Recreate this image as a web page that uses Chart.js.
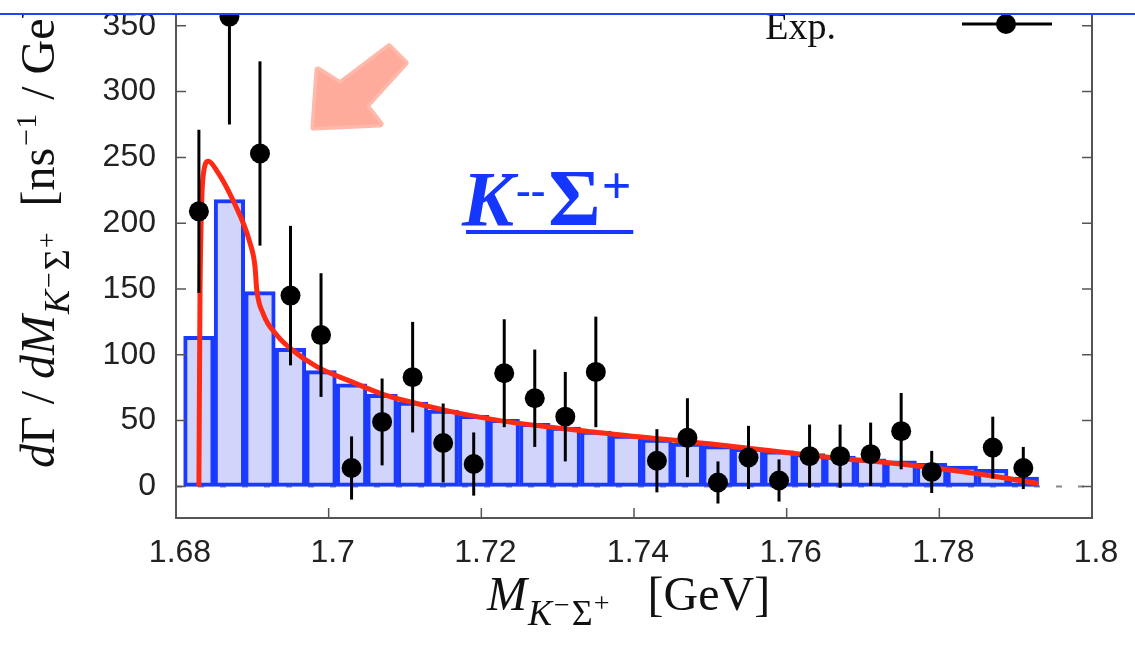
<!DOCTYPE html>
<html>
<head>
<meta charset="utf-8">
<title>K⁻Σ⁺ mass spectrum</title>
<script src="https://cdn.jsdelivr.net/npm/chart.js@4.4.1/dist/chart.umd.min.js"></script>
<style>
  html, body { margin: 0; padding: 0; background: #fff; }
  .Spectrum { position: relative; width: 1135px; height: 646px; overflow: hidden; }
</style>
</head>
<body>
<div class="Spectrum"><canvas id="spectrum"></canvas></div>
<script>
// bin centres of the K- Sigma+ invariant mass histogram [GeV], 4 MeV bins
const binCenters = [1.683, 1.687, 1.691, 1.695, 1.699, 1.703, 1.707, 1.711, 1.715, 1.719,
                    1.723, 1.727, 1.731, 1.735, 1.739, 1.743, 1.747, 1.751, 1.755, 1.759,
                    1.763, 1.767, 1.771, 1.775, 1.779, 1.783, 1.787, 1.791];
// model, binned
const modelHist = [114, 218, 148, 105, 88, 78, 70, 64, 58, 54,
                   51, 48, 45, 42, 39, 36, 33, 31, 29, 27,
                   25, 23, 21, 19.5, 17.5, 15.5, 13, 7];
// measured rate and its uncertainty (null = empty bin)
const expRate  = [209, 357, 253, 145, 115, 14, 49, 83, 33, 17,
                  86, 67, 53, 87, null, 19.5, 37, 3, 22, 4.5,
                  23, 23, 24.5, 42, 11, null, 29.5, 14];
const expError = [62, 82, 70, 53, 47, 24, 33, 42, 30, 24,
                  41, 37, 34, 42, null, 24, 30, 16, 24, 16,
                  24, 24, 24, 29, 16, null, 23.5, 16];
// model, unbinned
const curveMass = [1.6830, 1.68314, 1.68337, 1.68358, 1.68423, 1.68533, 1.6875, 1.68969, 1.69035,
                   1.69057, 1.69144, 1.69319, 1.69494, 1.69843, 1.7028, 1.7071, 1.71153, 1.7159,
                   1.72245, 1.7352, 1.7504, 1.7657, 1.7749, 1.788, 1.793];
const curveRate = [0, 142, 217, 237, 247, 240, 217, 185, 167,
                   150, 131, 115, 105, 91, 80, 70, 63, 57,
                   50, 41, 32, 22, 17, 7, 2];

const massTicks = [1.68, 1.7, 1.72, 1.74, 1.76, 1.78, 1.8];
const rateTicks = [0, 50, 100, 150, 200, 250, 300, 350];

const SANS = "'Liberation Sans', Arial, sans-serif";
const SERIF = "'Liberation Serif', 'Times New Roman', serif";

// draws a run of text pieces (sub/superscripts via dy), returns end x
function drawRich(ctx, parts, x, y) {
  ctx.textAlign = 'left';
  ctx.textBaseline = 'alphabetic';
  for (const p of parts) {
    ctx.font = p.font;
    x += p.pre || 0;
    ctx.fillText(p.text, x, y + (p.dy || 0));
    x += ctx.measureText(p.text).width;
  }
  return x;
}

function richWidth(ctx, parts) {
  let w = 0;
  for (const p of parts) { ctx.font = p.font; w += ctx.measureText(p.text).width + (p.pre || 0); }
  return w;
}

const kSigmaSub = [
  { text: 'K', font: 'italic 36px ' + SERIF, dy: 15, pre: 1 },
  { text: '−', font: '28px ' + SERIF, dy: 4, pre: 2 },
  { text: 'Σ', font: '36px ' + SERIF, dy: 15, pre: 2 },
  { text: '+', font: '28px ' + SERIF, dy: 2, pre: 1 }
];

const xTitle = [{ text: 'M', font: 'italic 48px ' + SERIF }, ...kSigmaSub,
                { text: '[GeV]', font: '48px ' + SERIF, pre: 38 }];
const yTitle = [
  { text: 'd', font: 'italic 48px ' + SERIF },
  { text: 'Γ / ', font: '48px ' + SERIF },
  { text: 'dM', font: 'italic 48px ' + SERIF },
  ...kSigmaSub,
  { text: '[ns', font: '48px ' + SERIF, pre: 26 },
  { text: '−1', font: '30px ' + SERIF, dy: -18, pre: 2 },
  { text: ' / GeV]', font: '48px ' + SERIF, pre: 2 }
];
const channelLabel = [
  { text: 'K', font: 'italic bold 78px ' + SERIF },
  { text: '--', font: 'bold 44px ' + SERIF, dy: -20, pre: 2 },
  { text: 'Σ', font: 'bold 80px ' + SERIF, pre: 3 },
  { text: '+', font: 'bold 52px ' + SERIF, dy: -22, pre: 1 }
];

const decorations = {
  id: 'decorations',
  beforeDatasetsDraw(chart) {
    const { ctx, chartArea: a, scales: { y } } = chart;
    ctx.save();
    ctx.strokeStyle = '#888';
    ctx.lineWidth = 2;
    ctx.setLineDash([6, 16]);
    ctx.beginPath();
    ctx.moveTo(a.left, y.getPixelForValue(0));
    ctx.lineTo(a.right, y.getPixelForValue(0));
    ctx.stroke();
    ctx.restore();
  },
  beforeDatasetDraw(chart, args) {
    if (args.index !== 2) return;
    const { ctx, scales: { x, y } } = chart;
    ctx.save();
    ctx.strokeStyle = '#000';
    ctx.lineWidth = 3;
    binCenters.forEach((m, i) => {
      if (expRate[i] == null) return;
      const px = x.getPixelForValue(m);
      ctx.beginPath();
      ctx.moveTo(px, y.getPixelForValue(expRate[i] - expError[i]));
      ctx.lineTo(px, y.getPixelForValue(expRate[i] + expError[i]));
      ctx.stroke();
    });
    ctx.restore();
  },
  afterDraw(chart) {
    const { ctx, chartArea: a, scales: { x, y } } = chart;
    ctx.save();

    // frame with inward ticks
    ctx.strokeStyle = '#555';
    ctx.lineWidth = 2;
    ctx.strokeRect(a.left, a.top, a.right - a.left, a.bottom - a.top);
    ctx.lineWidth = 1.5;
    ctx.beginPath();
    rateTicks.forEach(v => {
      const py = y.getPixelForValue(v);
      ctx.moveTo(a.left, py); ctx.lineTo(a.left + 10, py);
      ctx.moveTo(a.right, py); ctx.lineTo(a.right - 10, py);
    });
    massTicks.forEach(v => {
      const px = x.getPixelForValue(v);
      ctx.moveTo(px, a.bottom); ctx.lineTo(px, a.bottom - 10);
    });
    ctx.stroke();

    // axis titles
    ctx.fillStyle = '#111';
    drawRich(ctx, xTitle, 487, 610);
    ctx.save();
    ctx.translate(54, 468);
    ctx.rotate(-Math.PI / 2);
    drawRich(ctx, yTitle, 0, 0);
    ctx.restore();

    // key
    ctx.font = '38px ' + SERIF;
    ctx.textAlign = 'right';
    ctx.fillText('Exp.', 836, 39);
    ctx.strokeStyle = '#000';
    ctx.lineWidth = 3;
    ctx.beginPath();
    ctx.moveTo(962, 24); ctx.lineTo(1052, 24);
    ctx.stroke();
    ctx.beginPath();
    ctx.arc(1006, 24, 10, 0, Math.PI * 2);
    ctx.fillStyle = '#000';
    ctx.fill();

    // channel label
    ctx.fillStyle = '#1436ff';
    const end = drawRich(ctx, channelLabel, 462, 225);
    ctx.fillRect(466, 230, end - 466 + 2, 4);

    // arrow
    ctx.beginPath();
    ctx.moveTo(314, 127);
    ctx.lineTo(318, 70);
    ctx.lineTo(340, 84);
    ctx.lineTo(389, 47);
    ctx.lineTo(405, 63);
    ctx.lineTo(366, 106);
    ctx.lineTo(380, 124);
    ctx.closePath();
    ctx.fillStyle = '#ffab9b';
    ctx.strokeStyle = '#ffb9aa';
    ctx.lineWidth = 7;
    ctx.lineJoin = 'round';
    ctx.stroke();
    ctx.fill();

    // top band
    ctx.fillStyle = '#fff';
    ctx.fillRect(0, 0, chart.width, 13);
    ctx.fillStyle = '#2244ff';
    ctx.fillRect(0, 13, chart.width, 2);
    ctx.restore();
  }
};

new Chart(document.getElementById('spectrum'), {
  type: 'bar',
  data: {
    datasets: [{
      type: 'bar',
      label: 'model (binned)',
      data: binCenters.map((m, i) => ({ x: m, y: modelHist[i] })),
      backgroundColor: '#d2d5fb',
      borderColor: '#1a3aff',
      borderWidth: 4,
      borderSkipped: false,
      barPercentage: 1,
      categoryPercentage: 1,
      order: 3
    }, {
      type: 'line',
      label: 'model',
      data: curveMass.map((m, i) => ({ x: m, y: curveRate[i] })),
      borderColor: '#ff2a14',
      borderWidth: 5,
      pointRadius: 0,
      cubicInterpolationMode: 'monotone',
      fill: false,
      order: 2
    }, {
      type: 'line',
      label: 'Exp.',
      data: binCenters.map((m, i) => ({ x: m, y: expRate[i] })).filter(p => p.y != null),
      showLine: false,
      pointRadius: 10,
      pointBackgroundColor: '#000',
      pointBorderWidth: 0,
      order: 1
    }]
  },
  options: {
    responsive: true,
    maintainAspectRatio: false,
    animation: false,
    events: [],
    layout: { padding: { top: 4, right: 43, bottom: 0, left: 0 } },
    plugins: { legend: { display: false }, tooltip: { enabled: false } },
    scales: {
      x: {
        type: 'linear',
        min: 1.68,
        max: 1.8,
        offset: false,
        afterBuildTicks: s => { s.ticks = massTicks.map(v => ({ value: v })); },
        afterFit: s => { s.height = 128; s.paddingLeft = 0; s.paddingRight = 0; },
        grid: { display: false, drawTicks: false, offset: false },
        border: { display: false },
        ticks: {
          padding: 16,
          labelOffset: 4,
          color: '#222',
          font: { family: SANS, size: 32 },
          callback: v => String(v)
        }
      },
      y: {
        type: 'linear',
        min: -24,
        max: 362,
        afterBuildTicks: s => { s.ticks = rateTicks.map(v => ({ value: v })); },
        afterFit: s => { s.width = 176; s.paddingTop = 0; s.paddingBottom = 0; },
        grid: { display: false, drawTicks: false },
        border: { display: false },
        ticks: {
          padding: 20,
          color: '#222',
          font: { family: SANS, size: 32 },
          callback: v => String(v)
        }
      }
    }
  },
  plugins: [decorations]
});
</script>
</body>
</html>
